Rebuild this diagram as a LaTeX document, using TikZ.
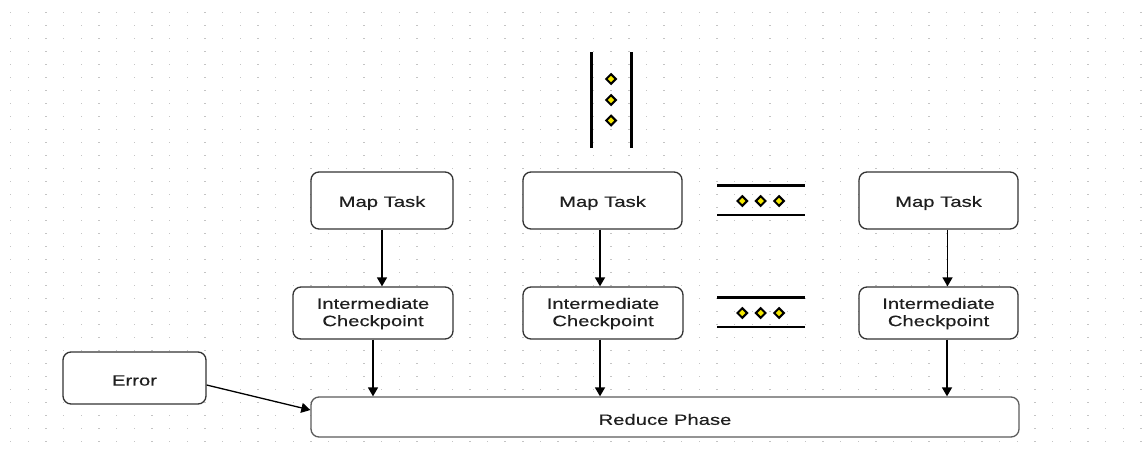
\documentclass[tikz,border=0pt]{standalone}
\usepackage{fontspec}
\setmainfont{Liberation Sans}[FakeStretch=1.35,FakeBold=0.35]
\usetikzlibrary{arrows.meta,shapes.geometric}
\definecolor{boxline}{HTML}{333333}
\definecolor{gridgrey}{HTML}{C4C4C4}
\definecolor{dotyellow}{HTML}{F5E800}
\tikzset{
  box/.style={draw=boxline, line width=1.3pt, rounded corners=8pt, fill=white,
    inner sep=0pt, align=center, font=\fontsize{15}{17.3}\selectfont, text=black!88},
  arr/.style={line width=1.6pt, -{Triangle[width=10pt,length=9pt]}},
  bar/.style={line width=3pt, black},
  dia/.style={diamond, draw=black, line width=2pt, fill=dotyellow, minimum size=10.5pt, inner sep=0pt},
}
\newcommand{\dn}[2][2.5pt]{\raisebox{-#1}[\height][\depth]{#2}}
\newcommand{\twoline}{\begin{tabular}{@{}c@{}}Intermediate\\Checkpoint\end{tabular}}
\begin{document}
\begin{tikzpicture}[x=1pt,y=-1pt]
\useasboundingbox (0,0) rectangle (1147,455);
\fill[white] (0,0) rectangle (1147,455);
% dot grid
\foreach \i in {0,...,64}{
  \foreach \j in {0,...,33}{
    \fill[gridgrey] ({10.7+17.66*\i-0.7},{12.7+13*\j-0.7}) rectangle ++(1.4,1.4);
  }
}
% boxes
\node[box, minimum width=142pt, minimum height=57pt] (map1) at (382,200.5) {\dn{Map Task}};
\node[box, minimum width=159pt, minimum height=57pt] (map2) at (602.5,200.5) {\dn{Map Task}};
\node[box, minimum width=159pt, minimum height=57pt] (map3) at (938.5,200.5) {\dn{Map Task}};
\node[box, minimum width=160pt, minimum height=52pt] (ic1) at (373,313) {\dn[1pt]{\twoline}};
\node[box, minimum width=160pt, minimum height=52pt] (ic2) at (603,313) {\dn[1pt]{\twoline}};
\node[box, minimum width=159pt, minimum height=52pt] (ic3) at (938.5,313) {\dn[1pt]{\twoline}};
\node[box, minimum width=143pt, minimum height=52pt] (err) at (134.5,378) {\dn{Error}};
\node[box, draw=boxline!80, minimum width=708pt, minimum height=40pt] (red) at (665,417) {\dn{Reduce Phase}};
% connectors
\draw[arr] (map1.south) -- (map1.south |- ic1.north);
\draw[arr] ([xshift=-2.5pt]map2.south) -- ([xshift=-2.5pt]map2.south |- ic2.north);
\draw[arr] ([xshift=9pt]map3.south) -- ([xshift=9pt]map3.south |- ic3.north);
\draw[arr] (ic1.south) -- (ic1.south |- red.north);
\draw[arr] ([xshift=-3pt]ic2.south) -- ([xshift=-3pt]ic2.south |- red.north);
\draw[arr] ([xshift=8.5pt]ic3.south) -- ([xshift=8.5pt]ic3.south |- red.north);
\draw[arr, line width=1.3pt] ([yshift=-7pt]err.east) -- ([yshift=7pt]red.west);
% vertical ellipsis symbol
\draw[bar] (591,52) -- (591,148);
\draw[bar] (631.5,52) -- (631.5,148);
\node[dia] (vd1) at (611,79) {};
\node[dia] (vd2) at (611,100) {};
\node[dia] (vd3) at (611,120.5) {};
% horizontal ellipsis symbols
\foreach \y/\n in {0/a,112/b}{
  \draw[line width=2.6pt] (717,{185.7+\y}) -- (805,{185.7+\y});
  \draw[line width=2.6pt] (717,{215+\y}) -- (805,{215+\y});
  \node[dia] (hd1\n) at (742.3,{201+\y}) {};
  \node[dia] (hd2\n) at (760.7,{201+\y}) {};
  \node[dia] (hd3\n) at (779,{201+\y}) {};
}
\end{tikzpicture}
\end{document}
